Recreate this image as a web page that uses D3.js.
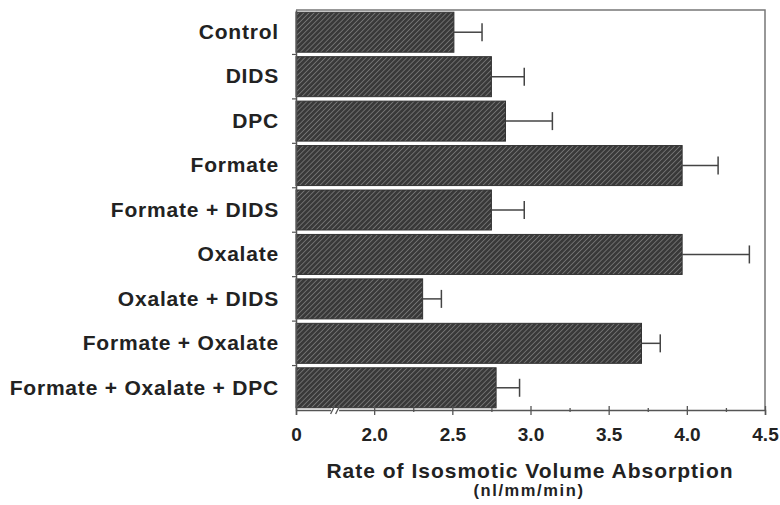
<!DOCTYPE html>
<html>
<head>
<meta charset="utf-8">
<script src="https://cdn.jsdelivr.net/npm/d3@7"></script>
<style>
  body { margin: 0; background: #fff; }
  text { font-family: "Liberation Sans", Arial, sans-serif; font-weight: bold; fill: #222; }
</style>
</head>
<body>
<script>
// data
const groups = ["Control", "DIDS", "DPC", "Formate", "Formate + DIDS", "Oxalate",
                "Oxalate + DIDS", "Formate + Oxalate", "Formate + Oxalate + DPC"];
const rates = [2.51, 2.75, 2.84, 3.97, 2.75, 3.97, 2.31, 3.71, 2.78];
const errors = [0.18, 0.21, 0.30, 0.23, 0.21, 0.43, 0.12, 0.12, 0.15];
const tickValues = [1.5, 1.75, 2.0, 2.25, 2.5, 2.75, 3.0, 3.25, 3.5, 3.75, 4.0, 4.25, 4.5];
const tickLabels = ["0", "", "2.0", "", "2.5", "", "3.0", "", "3.5", "", "4.0", "", "4.5"];

const m = {top: 10, bottom: 95, left: 296, right: 15};
const W = 780, H = 505;
const w = W - m.left - m.right;
const h = H - m.top - m.bottom;

const svg = d3.select("body")
    .append("svg")
    .attr("width", W)
    .attr("height", H);

const defs = svg.append("defs");
const pat = defs.append("pattern")
    .attr("id", "hatch")
    .attr("patternUnits", "userSpaceOnUse")
    .attr("width", 3.6)
    .attr("height", 3.6)
    .attr("patternTransform", "rotate(45)");
pat.append("rect").attr("width", 3.6).attr("height", 3.6).attr("fill", "#393939");
pat.append("line")
    .attr("x1", 0).attr("y1", 0).attr("x2", 0).attr("y2", 3.6)
    .attr("stroke", "#909090").attr("stroke-width", 1.2);

const g = svg.append("g").attr("transform", `translate(${m.left}, ${m.top})`);

// axis broken between 0 and 2.0, so the "0" sits where 1.5 would be
const x = d3.scaleLinear().domain([1.5, 4.5]).range([0, w]);
const y = d3.scaleBand().domain(groups).range([0, h]).paddingInner(0.1).paddingOuter(0.05);

// frame
g.append("path")
    .attr("d", `M0,0H${w}V${h}`)
    .attr("fill", "none")
    .attr("stroke", "#777")
    .attr("stroke-width", 1.5);

// bars
g.selectAll("rect.bar")
    .data(groups)
    .enter()
    .append("rect")
    .attr("class", "bar")
    .attr("x", x(1.5))
    .attr("y", d => y(d))
    .attr("width", (d, i) => x(rates[i]) - x(1.5))
    .attr("height", y.bandwidth())
    .attr("fill", "url(#hatch)")
    .attr("stroke", "#333")
    .attr("stroke-width", 1);

// error bars
const eb = g.selectAll("g.err")
    .data(groups)
    .enter()
    .append("g")
    .attr("class", "err")
    .attr("stroke", "#444")
    .attr("stroke-width", 1.5);
eb.append("line")
    .attr("x1", (d, i) => x(rates[i]))
    .attr("x2", (d, i) => x(rates[i] + errors[i]))
    .attr("y1", d => y(d) + y.bandwidth() / 2)
    .attr("y2", d => y(d) + y.bandwidth() / 2);
eb.append("line")
    .attr("x1", (d, i) => x(rates[i] + errors[i]))
    .attr("x2", (d, i) => x(rates[i] + errors[i]))
    .attr("y1", d => y(d) + y.bandwidth() / 2 - 9)
    .attr("y2", d => y(d) + y.bandwidth() / 2 + 9);

// x axis
const xAxis = g.append("g")
    .attr("transform", `translate(0, ${h})`)
    .call(d3.axisBottom(x)
        .tickValues(tickValues)
        .tickSize(5)
        .tickFormat((d, i) => tickLabels[i]));
xAxis.select(".domain").attr("stroke", "#555").attr("stroke-width", 1.5);
xAxis.selectAll(".tick line")
    .attr("stroke", "#555")
    .attr("stroke-width", 1.3)
    .attr("y1", (d, i) => tickLabels[i] ? -4 : -2)
    .attr("y2", (d, i) => tickLabels[i] ? 5 : 2);
xAxis.selectAll(".tick text")
    .attr("y", 17.5)
    .style("font-size", "19px")
    .style("font-family", "'Liberation Sans', Arial, sans-serif")
    .style("font-weight", "bold")
    .attr("fill", "#222");

// axis break marks
const bx = (x(1.5) + x(2.0)) / 2;
xAxis.append("rect").attr("x", bx - 4).attr("y", -2).attr("width", 8).attr("height", 4).attr("fill", "#fff");
[-2.5, 2.5].forEach(o => {
    xAxis.append("line")
        .attr("x1", bx + o - 2).attr("y1", 4)
        .attr("x2", bx + o + 2).attr("y2", -4)
        .attr("stroke", "#555").attr("stroke-width", 1.3);
});

// y axis
const yAxis = g.append("g")
    .call(d3.axisLeft(y).tickSize(0).tickPadding(17));
yAxis.select(".domain").attr("stroke", "#555").attr("stroke-width", 1.5);
yAxis.selectAll(".tick text")
    .style("font-size", "21px")
    .style("letter-spacing", "0.8px")
    .style("font-family", "'Liberation Sans', Arial, sans-serif")
    .style("font-weight", "bold")
    .attr("fill", "#222");
// small ticks between the categories
g.selectAll("line.ytick")
    .data(groups.slice(1))
    .enter()
    .append("line")
    .attr("class", "ytick")
    .attr("x1", -4).attr("x2", 0)
    .attr("y1", d => y(d) - y.step() * y.paddingInner() / 2)
    .attr("y2", d => y(d) - y.step() * y.paddingInner() / 2)
    .attr("stroke", "#555").attr("stroke-width", 1.2);

// titles
svg.append("text")
    .attr("x", 530)
    .attr("y", 478)
    .attr("text-anchor", "middle")
    .style("font-size", "21px")
    .style("letter-spacing", "1px")
    .text("Rate of Isosmotic Volume Absorption");
svg.append("text")
    .attr("x", 529)
    .attr("y", 496)
    .attr("text-anchor", "middle")
    .style("font-size", "16.5px")
    .style("letter-spacing", "1.6px")
    .text("(nl/mm/min)");
</script>
</body>
</html>
